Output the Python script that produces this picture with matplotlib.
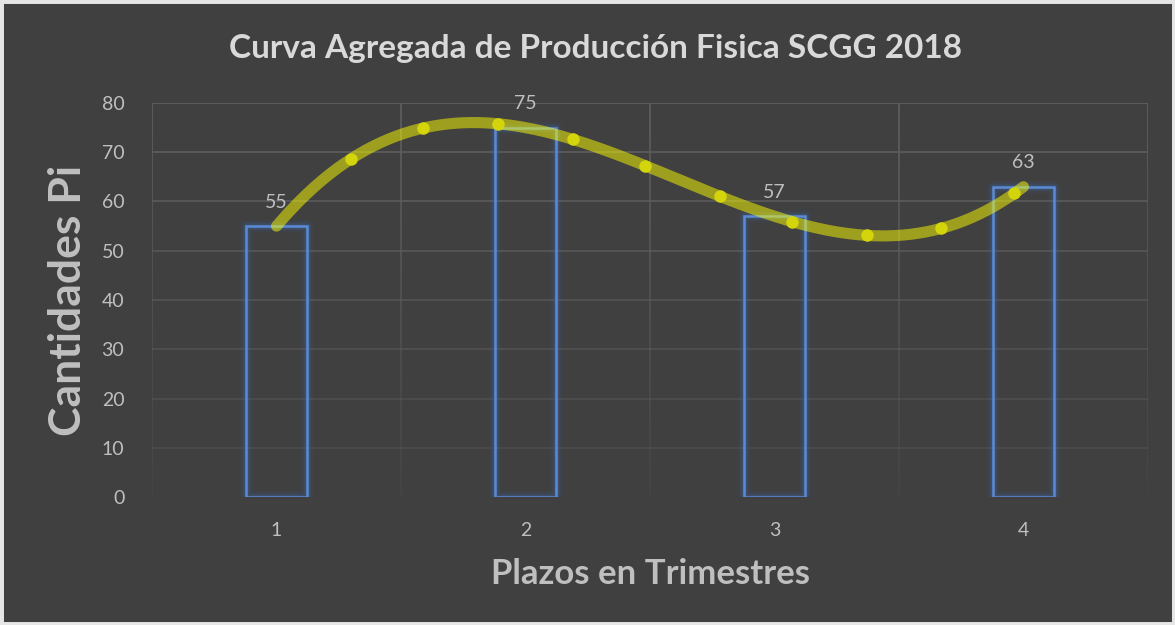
import numpy as np
import matplotlib
matplotlib.use("Agg")
import matplotlib.pyplot as plt
from matplotlib.patches import Rectangle
from matplotlib.collections import LineCollection

# ---- data ----
trimestres = [1, 2, 3, 4]
cantidades = [55, 75, 57, 63]
y_ticks = [0, 10, 20, 30, 40, 50, 60, 70, 80]
# markers seen along the trend curve (x in quarters, y in units)
marker_x = [1.30, 1.59, 1.89, 2.19, 2.48, 2.78, 3.07, 3.37, 3.67, 3.96]
marker_y = [68.6, 75.0, 75.8, 72.6, 67.3, 61.2, 55.9, 53.2, 54.6, 61.7]

title = "Curva Agregada de Producción Fisica SCGG 2018"
xlabel = "Plazos en Trimestres"
ylabel = "Cantidades Pi"

BG = "#404040"
TXT = "#D9D9D9"
TICK = "#BFBFBF"
BAR = "#5B8BD4"
GLOW = "#3E6FC0"
FONT = "Lato"

fig = plt.figure(figsize=(11.75, 6.25), dpi=100, facecolor=BG)
ax = fig.add_axes([0.1294, 0.2048, 0.9770 - 0.1294, 0.8352 - 0.2048])
ax.set_facecolor(BG)
ax.set_xlim(0.5, 4.5)
ax.set_ylim(0, 80)

# gridlines fading toward bottom
for v in y_ticks[1:]:
    a = 0.25 + 0.75 * (v / 80)
    ax.axhline(v, color="#5E5E5E", lw=1.3, alpha=a, zorder=0)
for xv in [0.5, 1.5, 2.5, 3.5, 4.5]:
    ys = np.linspace(0, 80, 60)
    segs = [[(xv, ys[i]), (xv, ys[i + 1])] for i in range(len(ys) - 1)]
    alphas = 0.15 + 0.85 * (ys[:-1] / 80)
    cols = [(0.37, 0.37, 0.37, al) for al in alphas]
    ax.add_collection(LineCollection(segs, colors=cols, linewidths=1.3, zorder=0))

# bars with soft glow
w = 0.245
for x, v in zip(trimestres, cantidades):
    for lw, al in [(9, 0.06), (7, 0.08), (5, 0.1), (3.5, 0.14)]:
        ax.add_patch(Rectangle((x - w / 2, 0), w, v, fill=False, ec=GLOW, lw=lw,
                               alpha=al, zorder=2, joinstyle="round"))
    ax.add_patch(Rectangle((x - w / 2, 0), w, v, fill=False, ec=BAR, lw=1.8,
                           zorder=3))
    ax.annotate(str(v), (x, v), xytext=(0, 11), textcoords="offset points",
                ha="center", va="bottom", color=TICK, fontsize=14,
                family=FONT, zorder=6)

# polynomial (order 3) trend curve
coef = np.polyfit(trimestres, cantidades, 3)
xs = np.linspace(trimestres[0], trimestres[-1], 300)
ax.plot(xs, np.polyval(coef, xs), color=(1, 1, 0), alpha=0.5, lw=8,
        solid_capstyle="round", zorder=4)
ax.plot(marker_x, marker_y, ls="none", marker="o", ms=9, color="#D4D40C",
        mec="none", zorder=5)

ax.set_xticks(trimestres)
ax.set_yticks(y_ticks)
ax.tick_params(length=0, colors=TICK, labelsize=14)
ax.tick_params(axis="y", pad=20)
ax.tick_params(axis="x", pad=18)
for lab in ax.get_xticklabels() + ax.get_yticklabels():
    lab.set_family(FONT)
for s in ax.spines.values():
    s.set_visible(False)

ax.set_xlabel(xlabel, color=TICK, fontsize=25, fontweight="bold", family=FONT,
              labelpad=14)
ax.set_ylabel(ylabel, color=TICK, fontsize=32, fontweight="bold", family=FONT,
              labelpad=10)
fig.text(0.507, 0.922, title, ha="center", va="center", color=TXT, fontsize=24,
         fontweight="bold", family=FONT)

# light frame around chart
fig.patches.append(Rectangle((0, 0), 1, 1, transform=fig.transFigure,
                             fill=False, ec="#E6E6E6", lw=5))

fig.savefig("out.png", dpi=100, facecolor=BG)
